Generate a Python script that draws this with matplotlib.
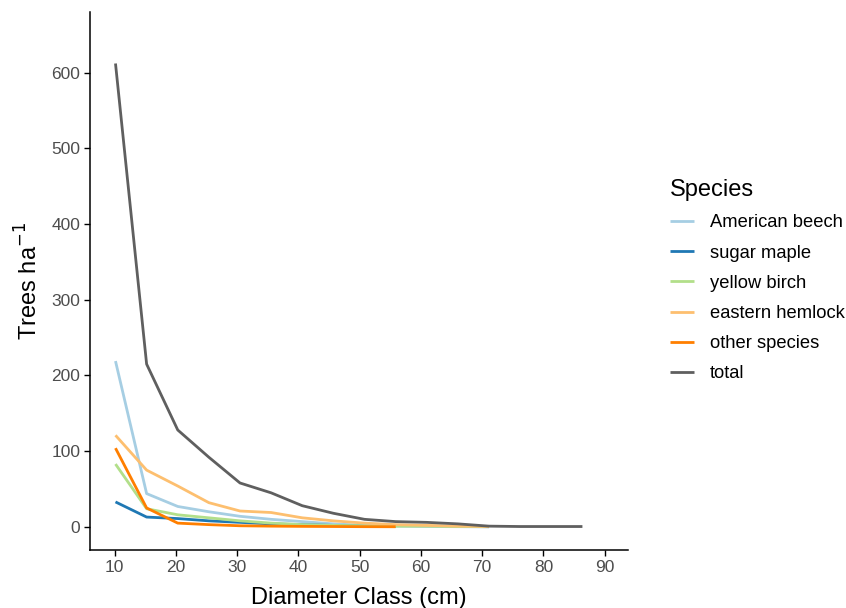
import matplotlib
matplotlib.use('Agg')
import matplotlib.pyplot as plt

plt.rcParams['font.family'] = ['Liberation Sans', 'DejaVu Sans']

# diameter classes: 4-34 inch in 2-inch steps, converted to cm
diameter_cm = [10.16, 15.24, 20.32, 25.4, 30.48, 35.56, 40.64, 45.72,
               50.8, 55.88, 60.96, 66.04, 71.12, 76.2, 81.28, 86.36]

american_beech = [219, 44, 27, 20, 14, 10, 7, 4, 2, 1, 0.5, 0.3, 0]
sugar_maple = [33, 13, 11, 8, 6, 4, 3, 2, 1, 0.5]
yellow_birch = [83, 24, 16, 12, 8, 5, 3, 2, 1.5, 1, 1, 0.5, 0.3]
eastern_hemlock = [121, 75, 54, 32, 21, 19, 12, 8, 5, 3, 2, 1, 0.5]
other_species = [104, 25, 5, 3, 1.5, 1, 0.7, 0.5, 0.3, 0.2]
total = [612, 215, 128, 92, 58, 45, 28, 18, 10, 7, 6, 4, 1, 0.5, 0.5, 0.5]

species = ["American beech", "sugar maple", "yellow birch",
           "eastern hemlock", "other species", "total"]
series = [american_beech, sugar_maple, yellow_birch,
          eastern_hemlock, other_species, total]
colors = ["#A6CEE3", "#1F78B4", "#B2DF8A", "#FDBF6F", "#FF7F00", "#5F5F5F"]

fig = plt.figure(figsize=(8.46, 6.08), dpi=100)
ax = fig.add_axes([90 / 846, 1 - 550 / 608, (628 - 90) / 846, (550 - 12) / 608])

for name, vals, c in zip(species, series, colors):
    ax.plot(diameter_cm[:len(vals)], vals, color=c, linewidth=2.0,
            label=name, solid_capstyle='butt')

ax.set_xlim(6.0, 93.8)
ax.set_ylim(-30.5, 680)
ax.set_xticks(range(10, 91, 10))
ax.set_yticks(range(0, 601, 100))

for side in ("top", "right"):
    ax.spines[side].set_visible(False)
for side in ("left", "bottom"):
    ax.spines[side].set_linewidth(1.1)
ax.tick_params(axis='both', direction='out', length=4, width=1.0,
               colors='black', labelcolor='#4D4D4D', labelsize=12.5, pad=3)

ax.set_xlabel("Diameter Class (cm)", fontsize=17, labelpad=9)
ax.set_ylabel("Trees ha$^{-1}$", fontsize=17, labelpad=6)

leg = ax.legend(loc='upper left', bbox_to_anchor=(661 / 846, 1 - 170 / 608),
                bbox_transform=fig.transFigure, frameon=False, borderpad=0,
                title="Species", title_fontsize=17, fontsize=13.2,
                handlelength=1.3, handletextpad=0.85, labelspacing=0.72)
leg._legend_box.align = "left"

fig.savefig("out.png", dpi=100)
